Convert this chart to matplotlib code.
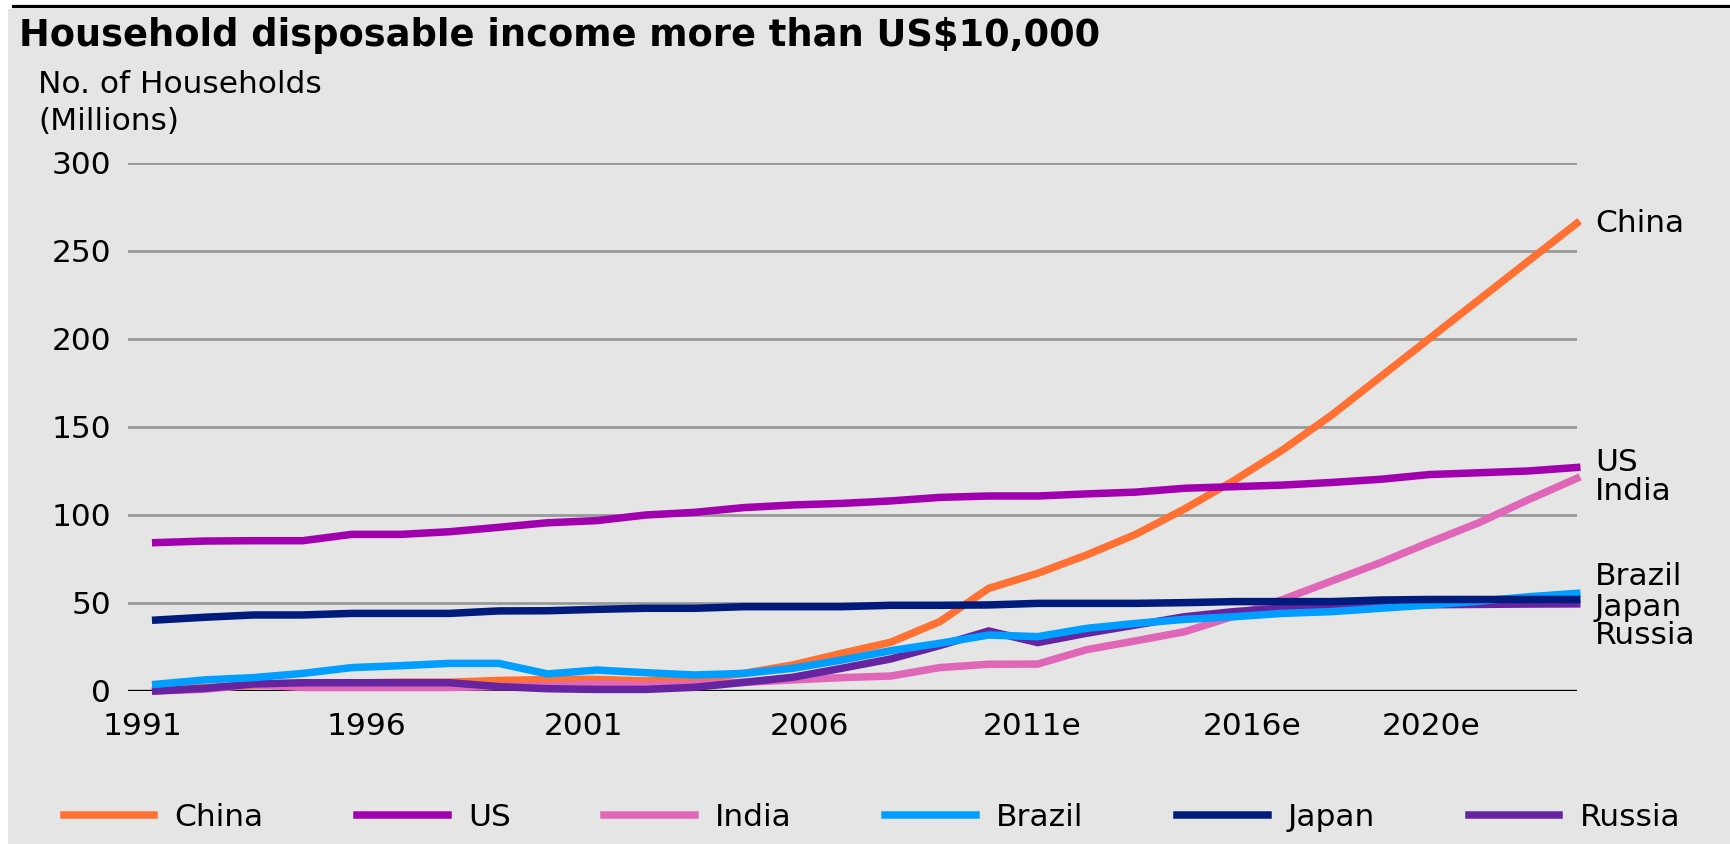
import numpy as np
import matplotlib.pyplot as plt
from matplotlib.lines import Line2D
from matplotlib.patches import Rectangle

plt.rcParams['font.family'] = ['DejaVu Sans']

# households with disposable income > US$10,000, millions
years = np.arange(1991, 2021)
china = [1, 2, 3, 4, 4.5, 5, 5, 6, 6.5, 6.6, 5.7, 6.6, 10, 14.8, 21.4, 27.7, 39.4, 58.3,
         66.9, 77.3, 89, 103.5, 119.5, 137, 156.8, 178.6, 200.4, 222.2, 244, 265.7]
us = [84.3, 85.2, 85.4, 85.4, 89, 89, 90.5, 93, 95.6, 96.8, 100, 101.5, 104.2, 105.7, 106.6,
      108, 110, 110.8, 110.8, 112, 113, 115.2, 116.1, 117, 118.5, 120.3, 123, 124, 125, 127]
india = [0, 1, 3.5, 2, 2, 2, 2, 2.5, 3, 4, 3.4, 3.8, 4.9, 6.3, 7.6, 8.5, 13.3, 15.2,
         15.3, 23.5, 28.5, 33.7, 42.5, 52, 62.5, 73, 84.5, 95.6, 108.5, 120.8]
brazil = [3.8, 6.3, 7.6, 10, 13.3, 14.4, 15.7, 15.7, 9.7, 11.9, 10.4, 9.1, 10, 12.9, 17.6,
          22.9, 27.1, 31.8, 30.9, 35.6, 38.4, 40.7, 42.2, 44.1, 45.1, 47, 48.9, 51, 53.5, 55.5]
japan = [40.3, 41.9, 43.2, 43.2, 44.1, 44.1, 44.1, 45.5, 45.6, 46.4, 47, 47, 47.9, 47.9, 47.9,
         48.7, 48.7, 48.9, 49.8, 49.8, 49.8, 50.2, 50.8, 50.8, 50.8, 51.7, 52, 52, 52, 52]
russia = [0, 1.5, 4, 4.7, 4.7, 4.7, 4.7, 2.5, 1.3, 0.9, 0.9, 2.1, 4.9, 7.8, 12.9, 18.2,
          25.8, 34.1, 27.5, 32.8, 37.5, 42.2, 45.1, 47, 48.3, 48.5, 49, 49.2, 49.4, 49.5]

names = ['China', 'US', 'India', 'Brazil', 'Japan', 'Russia']
series = [china, us, india, brazil, japan, russia]
colors = ['#FF7033', '#A000AE', '#E066B8', '#009EFF', '#001B7B', '#6624A0']
zorders = [3, 4, 5, 7, 8, 6]

# end-of-line labels (y in data units, nudged apart where they crowd)
label_y = [265.7, 130, 113.5, 65, 47.5, 31.5]

tick_pos = [1990.72, 1995.31, 1999.74, 2004.35, 2008.88, 2013.38, 2017.02]
tick_labels = ['1991', '1996', '2001', '2006', '2011e', '2016e', '2020e']

FS = 22.5
W, H = 1730, 844
fig = plt.figure(figsize=(W / 100, H / 100), dpi=100, facecolor='white')
fig.add_artist(Rectangle((8 / W, 0), 1, 1 - 9 / H, transform=fig.transFigure,
                         facecolor='#E5E5E5', edgecolor='none', zorder=0))
fig.add_artist(Line2D([13 / W, 1], [1 - 6 / H] * 2, color='black', lw=2.3))

ax = fig.add_axes([128 / W, 1 - 691 / H, (1576.7 - 128) / W, (691 - 163) / H])
ax.set_facecolor('none')
for s in ax.spines.values():
    s.set_visible(False)

for name, vals, c, z in zip(names, series, colors, zorders):
    ax.plot(years, vals, color=c, lw=5.4, label=name, zorder=z,
            solid_joinstyle='miter', clip_on=False)

ax.set_xlim(1990.435, 2020)
ax.set_ylim(0, 300)
ax.set_yticks(np.arange(0, 301, 50))
ax.yaxis.grid(True, color='#999999', lw=2)
ax.set_axisbelow(True)
ax.axhline(0, color='black', lw=2.4, zorder=2)
ax.set_xticks(tick_pos, tick_labels)
ax.tick_params(axis='both', length=0, labelsize=FS)
ax.tick_params(axis='x', pad=15)
ax.tick_params(axis='y', pad=12)

for name, y in zip(names, label_y):
    ax.annotate(name, xy=(1, y), xycoords=('axes fraction', 'data'),
                xytext=(13, 0), textcoords='offset points',
                va='center', ha='left', fontsize=FS)

fig.text(19 / W, 1 - 46 / H, 'Household disposable income more than US$10,000',
         fontsize=26.5, fontweight='bold', va='baseline', ha='left')
fig.text(38 / W, 1 - 93 / H, 'No. of Households', fontsize=FS,
         va='baseline', ha='left')
fig.text(38 / W, 1 - 130 / H, '(Millions)', fontsize=FS,
         va='baseline', ha='left')

fig.legend(loc='center', bbox_to_anchor=(0.504, 1 - 817 / H), ncol=6,
           frameon=False, fontsize=FS, handlelength=2.9, handletextpad=0.64,
           columnspacing=3.0)

fig.savefig('out.png', dpi=100, facecolor=fig.get_facecolor())
